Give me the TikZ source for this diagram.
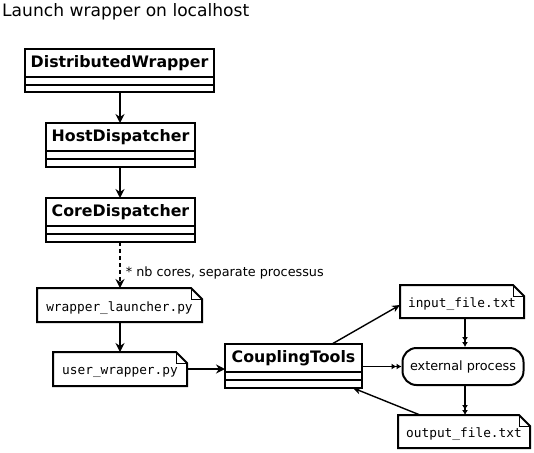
\documentclass[tikz,border=0pt]{standalone}
\usepackage{fontspec}
\setmainfont{DejaVu Sans}
\setmonofont{DejaVu Sans Mono}
\usetikzlibrary{arrows.meta}
\tikzset{
  boxline/.style={line width=2pt},
  clsname/.style={font=\fontsize{15.8}{18}\selectfont\bfseries, inner sep=0pt},
  monotext/.style={font=\fontsize{12.8}{15}\selectfont\ttfamily, inner sep=0pt},
  plaintext/.style={font=\fontsize{12.8}{15}\selectfont, inner sep=0pt},
  conn/.style={line width=1.8pt, -{Stealth[length=9pt,width=9pt,inset=3pt]}},
  thinconn/.style={line width=1.4pt, -{Stealth[length=8pt,width=7pt,inset=2.5pt]}},
  dblconn/.style={line width=1.8pt, -{Latex[length=5pt,width=6pt] Latex[length=5pt,width=6pt]}},
  frame/.style={inner sep=0pt, outer sep=0pt, anchor=north west},
}
% class box: name, left, top, right, line1, line2, bottom, text
\newcommand\umlclassbox[8]{%
  \node[frame, draw, boxline, minimum width={#4pt-#2pt}, minimum height={#7pt-#3pt}] (#1) at (#2,#3) {};
  \draw[boxline] (#2,#5) -- (#4,#5) (#2,#6) -- (#4,#6);
  \node[clsname] (#1-name) at ({(#2+#4)/2},{(#3+#5)/2}) {#8};
}
% note box: name, left, top, right, bottom, text
\newcommand\umlnotebox[6]{%
  \node[frame, minimum width={#4pt-#2pt}, minimum height={#5pt-#3pt}] (#1) at (#2,#3) {};
  \draw[boxline] (#1.north west) -- ([xshift=-11pt]#1.north east) -- ([yshift=-11pt]#1.north east) -- (#1.south east) -- (#1.south west) -- cycle;
  \draw[line width=0.9pt] ([xshift=-11pt]#1.north east) |- ([yshift=-11pt]#1.north east);
  \node[monotext] (#1-text) at ([yshift=-3pt]#1.center) {#6};
}
\begin{document}
\begin{tikzpicture}[x=1pt,y=-1pt]
\useasboundingbox (0,0) rectangle (534,452);

\node[anchor=base west, inner sep=0pt, font=\fontsize{17.1}{20}\selectfont] (title) at (2,17) {Launch wrapper on localhost};

\umlclassbox{dw}{25}{49}{214}{77}{85}{92}{DistributedWrapper}
\umlclassbox{hd}{46}{123}{195}{151}{159}{167}{HostDispatcher}
\umlclassbox{cd}{46}{198}{195}{226}{234}{242}{CoreDispatcher}
\umlclassbox{ct}{225}{344}{362}{372}{380}{388}{CouplingTools}

\umlnotebox{wl}{37}{288}{202}{322}{wrapper\_launcher.py}
\umlnotebox{uw}{53}{352}{187}{386}{user\_wrapper.py}
\umlnotebox{in}{400}{285}{524}{318}{input\_file.txt}
\umlnotebox{out}{398}{415}{530}{448}{output\_file.txt}

\node[draw, boxline, rounded corners=14pt, minimum width=121pt, minimum height=37pt, inner sep=0pt, plaintext] (ep) at (463,366.5) {external process};

\draw[conn] (dw.south -| 120,0) -- (hd.north -| 120,0);
\draw[conn] (hd.south -| 120,0) -- (cd.north -| 120,0);
\draw[conn, dash pattern=on 4pt off 3pt] (cd.south -| 120,0) -- (wl.north -| 120,0)
  node[pos=0.68, right=5pt, plaintext] (lbl) {* nb cores, separate processus};
\draw[conn] (wl.south -| 120,0) -- (uw.north -| 120,0);
\draw[conn] (uw.east) -- (uw.east -| ct.west);
\draw[dblconn] (ep.west -| ct.east) -- (ep.west);
\draw[thinconn] ([xshift=38.5pt]ct.north) -- ([yshift=-3.5pt]in.west);
\draw[dblconn] (in.south -| 465,0) -- (ep.north -| 465,0);
\draw[dblconn] (ep.south -| 465,0) -- (out.north -| 465,0);
\draw[thinconn] ([xshift=22pt]out.north west) -- ([xshift=-9pt]ct.south east);
\end{tikzpicture}
\end{document}
